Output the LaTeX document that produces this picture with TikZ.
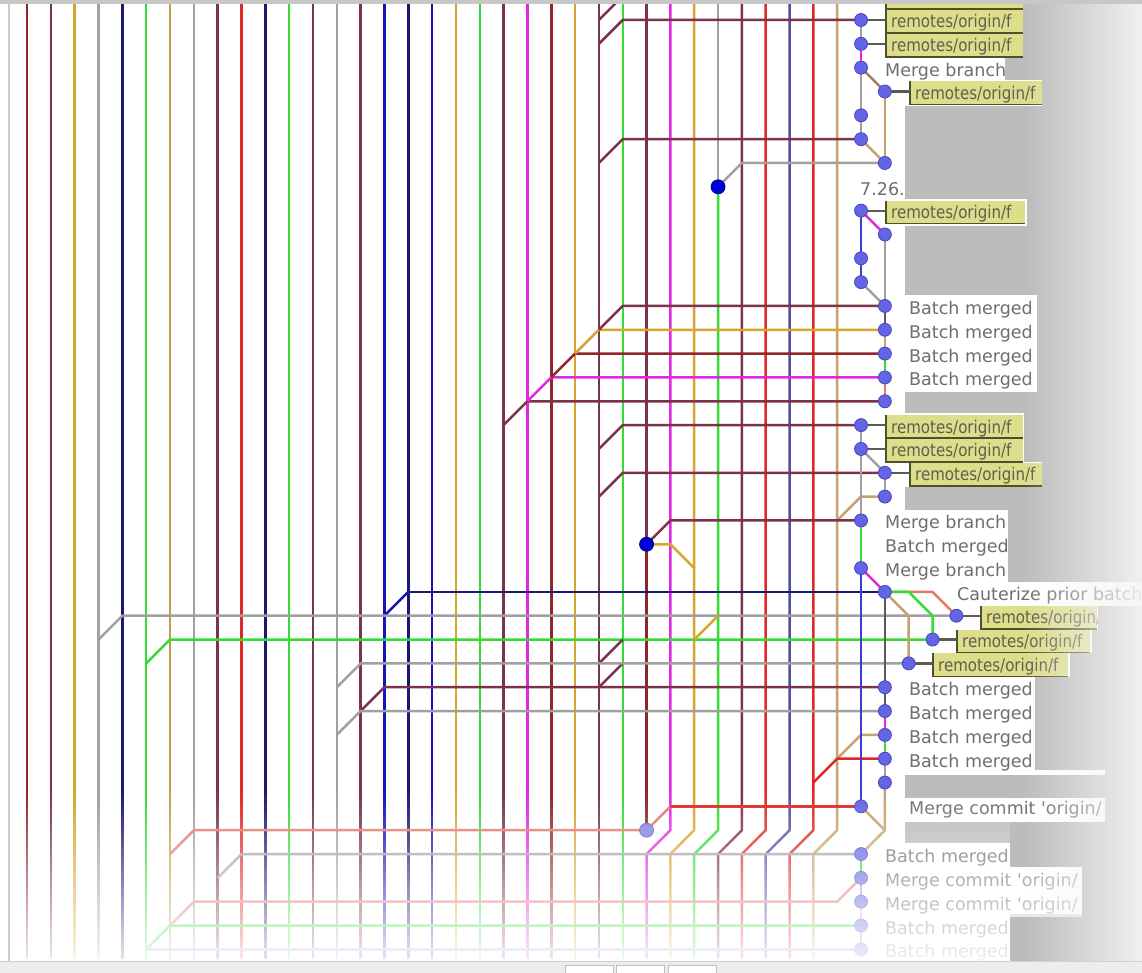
\documentclass[tikz,border=0pt]{standalone}
\usepackage{fontspec}
\usetikzlibrary{calc}
\newfontfamily\dvs{DejaVu Sans}
\newfontfamily\labfont[FakeStretch=0.86]{DejaVu Sans}
\definecolor{mar}{RGB}{125,50,75}
\definecolor{brd}{RGB}{145,38,42}
\definecolor{gld}{RGB}{215,165,45}
\definecolor{olv}{RGB}{190,160,75}
\definecolor{gry}{RGB}{160,160,160}
\definecolor{nvy}{RGB}{25,25,115}
\definecolor{blu}{RGB}{20,20,185}
\definecolor{blm}{RGB}{60,60,210}
\definecolor{grn}{RGB}{50,220,50}
\definecolor{rd}{RGB}{225,40,40}
\definecolor{mag}{RGB}{225,40,225}
\definecolor{tn}{RGB}{200,160,110}
\definecolor{btn}{RGB}{165,125,105}
\definecolor{slt}{RGB}{80,80,165}
\definecolor{sal}{RGB}{225,120,110}
\definecolor{lav}{RGB}{150,150,235}
\definecolor{dgy}{RGB}{90,90,90}
\definecolor{nodec}{RGB}{100,100,230}
\definecolor{nodee}{RGB}{70,70,190}
\definecolor{dotc}{RGB}{0,0,220}
\definecolor{dote}{RGB}{0,0,130}
\definecolor{dotl}{RGB}{130,130,225}
\definecolor{txtc}{RGB}{110,110,110}
\definecolor{ltxtc}{RGB}{95,95,80}
\definecolor{lblf}{RGB}{221,221,140}
\definecolor{lble}{RGB}{80,80,40}
\definecolor{bgg}{RGB}{188,188,188}
\definecolor{fadec}{RGB}{245,245,245}
\tikzset{
  ln/.style={line width=2.5pt, line join=round},
  commit/.style={circle, fill=nodec, draw=nodee, line width=0.8pt, minimum size=13pt, inner sep=0pt},
  dotnode/.style={circle, fill=dotc, draw=dote, line width=0.8pt, minimum size=14pt, inner sep=0pt},
  txt/.style={anchor=base west, inner sep=0pt, text=txtc, font=\dvs\fontsize{17.5}{18}\selectfont},
  ltxt/.style={anchor=base west, inner sep=0pt, text=ltxtc, font=\labfont\fontsize{17.5}{18}\selectfont},
  px/.style={x=1pt, y=-1pt, shift={(-27pt,20pt)}},
  link/.style={line width=2.2pt, draw=dgy},
}
\newcommand\lblbox[3]{%
  \fill[lblf] (#1,{20+23.83*(#3)-10}) rectangle (#2,{20+23.83*(#3)+13});
  \draw[lble, line width=1.6pt] (#1,{20+23.83*(#3)-10}) -- (#1,{20+23.83*(#3)+13}) -- (#2,{20+23.83*(#3)+13});
}
\newcommand\lbl[4]{%
  \fill[lblf] (#2,{20+23.83*(#4)-10}) rectangle (#3,{20+23.83*(#4)+13});
  \begin{scope}
    \clip (#2,{20+23.83*(#4)-10}) rectangle (#3,{20+23.83*(#4)+13});
    \node[ltxt] (#1) at ({#2+5},{28+23.83*(#4)}) {remotes/origin/f};
  \end{scope}
  \draw[lble, line width=1.6pt] (#2,{20+23.83*(#4)-10}) -- (#2,{20+23.83*(#4)+13}) -- (#3,{20+23.83*(#4)+13});
}
\begin{document}
\begin{tikzpicture}[x=23.83pt, y=-23.83pt]
\useasboundingbox (-1.13303,-0.83928) rectangle (46.79012,39.99161);
\clip (-1.13303,-0.83928) rectangle (46.79012,39.99161);
% ---------- background ----------
\begin{scope}[px]
  \fill[white] (0,0) rectangle (1142,973);
  \fill[bgg] (905,0) rectangle (1142,962);
  \fill[white] (883,8) rectangle (1023,57);
  \fill[white] (883,57) rectangle (1005,80);
  \fill[white] (883,80) rectangle (1042,106);
  \fill[white] (883,199) rectangle (1027,226);
  \fill[white] (883,295) rectangle (1037,392);
  \fill[white] (883,413) rectangle (1024,463);
  \fill[white] (883,462) rectangle (1042,487);
  \fill[white] (883,510) rectangle (1008,582);
  \fill[white] (883,582) rectangle (1142,606);
  \fill[white] (883,606) rectangle (1098,630);
  \fill[white] (883,630) rectangle (1092,653);
  \fill[white] (883,653) rectangle (1070,677);
  \fill[white] (883,677) rectangle (1035,770);
  \fill[white] (883,770) rectangle (1105,775);
  \fill[white] (883,798) rectangle (1105,822);
  \fill[white] (883,843) rectangle (1010,962);
  \fill[white] (1008,867) rectangle (1082,914);
\end{scope}
% ---------- coordinates of commits ----------
\foreach \n/\x/\y in {0/35/0,1/35/1,2/35/2,3/36/3,4/35/4,5/35/5,6/36/6,8/35/8,9/36/9,10/35/10,11/35/11,12/36/12,13/36/13,14/36/14,15/36/15,16/36/16,17/35/17,18/35/18,19/36/19,20/36/20,21/35/21,23/35/23,24/36/24,25/39/25,26/38/26,27/37/27,28/36/28,29/36/29,30/36/30,31/36/31,32/36/32,33/35/33,35/35/35,36/35/36,37/35/37,38/35/38,39/35/39}{\coordinate (n\n) at (\x,\y);}
\coordinate (dA) at (29,7);
\coordinate (dB) at (26,22);
\coordinate (dC) at (26,34);
% ---------- vertical lanes ----------
\foreach \i/\c in {0/brd,1/mar,2/gld,3/gry,4/nvy,5/grn,6/olv,7/gry,8/mar,9/rd,10/nvy,11/grn,12/mar,13/gry,14/mar,15/blu,16/nvy,17/blu,18/gld,19/grn,20/mar,21/mag,22/brd,23/gld,24/mar,25/grn}{
  \coordinate (t\i) at (\i,-0.9); \coordinate (b\i) at (\i,39.4);
  \draw[ln,\c] (t\i) -- (b\i);}
\draw[ln,mar] (26,-0.9) -- (dB);
\draw[ln,brd] (dB) -- (dC);
\draw[ln,mag] (27,-0.9) -- (27,34) -- (26,35) -- (26,39.4);
\draw[ln,gld] (28,-0.9) -- (28,34) -- (27,35) -- (27,39.4);
\draw[ln,gry] (29,-0.9) -- (dA);
\draw[ln,grn] (dA) -- (29,34) -- (28,35) -- (28,39.4);
\draw[ln,mar] (30,-0.9) -- (30,34) -- (29,35) -- (29,39.4);
\draw[ln,rd] (31,-0.9) -- (31,34) -- (30,35) -- (30,39.4);
\draw[ln,slt] (32,-0.9) -- (32,34) -- (31,35) -- (31,39.4);
\draw[ln,rd] (33,-0.9) -- (33,34) -- (32,35) -- (32,39.4);
\draw[ln,tn] (34,-0.9) -- (34,34) -- (33,35) -- (33,39.4);
% ---------- branch connectors ----------
\draw[ln,mar] (24,0) -- (25,-1);
\draw[ln,mar] (24,1) -- (25,0) -- (n0);
\draw[ln,mar] (24,6) -- (25,5) -- (n5);
\draw[ln,gry] (dA) -- (30,6) -- (n6);
\draw[ln,mar] (20,17) -- (21,16) -- (n16);
\draw[ln,mag] (21,16) -- (22,15) -- (n15);
\draw[ln,brd] (22,15) -- (23,14) -- (n14);
\draw[ln,gld] (23,14) -- (24,13) -- (n13);
\draw[ln,mar] (24,13) -- (25,12) -- (n12);
\draw[ln,mar] (24,18) -- (25,17) -- (n17);
\draw[ln,mar] (24,20) -- (25,19) -- (n19);
\draw[ln,tn] (34,21) -- (35,20) -- (n20);
\draw[ln,mar] (dB) -- (27,21) -- (n21);
\draw[ln,gld] (dB) -- (27,22) -- (28,23);
\draw[ln,blu] (15,25) -- (16,24);
\draw[ln,nvy] (16,24) -- (n24);
\draw[ln,gry] (3,26) -- (4,25) -- (n25);
\draw[ln,grn] (5,27) -- (6,26) -- (n26);
\draw[ln,gld] (28,26) -- (29,25);
\draw[ln,mar] (24,27) -- (25,26);
\draw[ln,mar] (24,28) -- (25,27);
\draw[ln,gry] (13,28) -- (14,27) -- (n27);
\draw[ln,mar] (14,29) -- (15,28) -- (n28);
\draw[ln,gry] (13,30) -- (14,29) -- (n29);
\draw[ln,tn] (34,31) -- (35,30) -- (n30);
\draw[ln,rd] (33,32) -- (34,31) -- (n31);
\draw[ln,sal] (dC) -- (27,33);
\draw[ln,rd] (27,33) -- (n33);
\draw[ln,sal] (6,35) -- (7,34) -- (dC);
\draw[ln,gry] (8,36) -- (9,35) -- (n35);
\draw[ln,sal] (6,38) -- (7,37) -- (34,37) -- (n36);
\draw[ln,grn] (5,39) -- (6,38) -- (n38);
\draw[ln,lav] (5,39) -- (n39);
% ---------- commit column ----------
\draw[ln,gry] (n0) -- (n1);
\draw[ln,mag] (n1) -- (n2);
\draw[ln,btn] (n2) -- (n3);
\draw[ln,gry] (n2) -- (n5);
\draw[ln,tn] (n3) -- (n6);
\draw[ln,tn] (n5) -- (n6);
\draw[ln,mag] (n8) -- (n9);
\draw[ln,blm] (n8) -- (n11);
\draw[ln,gry] (n9) -- (n12);
\draw[ln,gry] (n11) -- (n12);
\draw[ln,dgy] (n12) -- (n13);
\draw[ln,tn] (n13) -- (n14);
\draw[ln,grn] (n14) -- (n15);
\draw[ln,sal] (n15) -- (n16);
\draw[ln,gry] (n17) -- (n18);
\draw[ln,gry] (n18) -- (n19);
\draw[ln,gry] (n18) -- (n21);
\draw[ln,gry] (n19) -- (n20);
\draw[ln,grn] (n21) -- (n23);
\draw[ln,mag] (n23) -- (n24);
\draw[ln,blm] (n23) -- (n33);
\draw[ln,dgy] (n24) -- (n28);
\draw[ln,dgy] (n28) -- (n29);
\draw[ln,mag] (n29) -- (n30);
\draw[ln,grn] (n30) -- (n31);
\draw[ln,gry] (n31) -- (n32);
\draw[ln,tn] (n32) -- (36,34) -- (n35);
\draw[ln,tn] (n33) -- (36,34);
\draw[ln,sal] (n24) -- (38,24) -- (n25);
\draw[ln,grn] (n24) -- (37,24) -- (38,25) -- (n26);
\draw[ln,tn] (n24) -- (37,25) -- (n27);
\draw[ln,grn] (n35) -- (n36);
\draw[ln,lav] (n36) -- (n37);
\draw[ln,mag!50] (n37) -- (n38);
\draw[ln,lav] (n38) -- (n39);
% ---------- labels and texts ----------
\begin{scope}[px]
  \lblbox{886}{1023}{-1}
  \lbl{L0}{886}{1023}{0}
  \lbl{L1}{886}{1023}{1}
  \lbl{L3}{910}{1042}{3}
  \lbl{L8}{886}{1025}{8}
  \lbl{L17}{886}{1023}{17}
  \lbl{L18}{886}{1023}{18}
  \lbl{L19}{910}{1042}{19}
  \lbl{L25}{981}{1097}{25}
  \lbl{L26}{957}{1090}{26}
  \lbl{L27}{933}{1068}{27}
  \node[txt] (T2) at (885,{28.5+23.83*2}) {Merge branch};
  \node[txt] (T7) at (860,{28.5+23.83*7}) {7.26.};
  \foreach \r in {12,13,14,15}{\node[txt] (T\r) at (909,{28.5+23.83*\r}) {Batch merged};}
  \node[txt] (T21) at (885,{28.5+23.83*21}) {Merge branch};
  \node[txt] (T22) at (885,{28.5+23.83*22}) {Batch merged};
  \node[txt] (T23) at (885,{28.5+23.83*23}) {Merge branch};
  \node[txt] (T24) at (957,{28.5+23.83*24}) {Cauterize prior batch};
  \foreach \r in {28,29,30,31}{\node[txt] (T\r) at (909,{28.5+23.83*\r}) {Batch merged};}
  \node[txt] (T33) at (909,{28.5+23.83*33}) {Merge commit 'origin/};
  \node[txt] (T35) at (885,{28.5+23.83*35}) {Batch merged};
  \node[txt] (T36) at (885,{28.5+23.83*36}) {Merge commit 'origin/};
  \node[txt] (T37) at (885,{28.5+23.83*37}) {Merge commit 'origin/};
  \node[txt] (T38) at (885,{28.5+23.83*38}) {Batch merged};
  \node[txt] (T39) at (885,{28.5+23.83*39}) {Batch merged};
\end{scope}
\foreach \k in {0,1,3,8,17,18,19,25,26,27}{
  \draw[link] (n\k) -- ($(n\k -| L\k.west)+(-5pt,0)$);}
% ---------- commit dots ----------
\foreach \n in {0,1,2,3,4,5,6,8,9,10,11,12,13,14,15,16,17,18,19,20,21,23,24,25,26,27,28,29,30,31,32,33,35,36,37,38,39}{
  \node[commit] (N\n) at (n\n) {};}
\node[dotnode] (DA) at (dA) {};
\node[dotnode] (DB) at (dB) {};
\node[dotnode, fill=dotl, draw=dotl!80!black] (DC) at (dC) {};
% ---------- fades, borders, status bar ----------
\begin{scope}[px]
  \foreach \k in {0,...,33}{
    \pgfmathsetmacro\op{0.9*(\k+0.5)/34}
    \fill[white, fill opacity=\op] (0,{792+5*\k}) rectangle (1010,{797+5*\k});}
  \foreach \k in {15,...,24}{
    \pgfmathsetmacro\op{0.9*(\k+0.5)/34}
    \fill[white, fill opacity=\op] (1010,{792+5*\k}) rectangle (1082,{797+5*\k});}
  \foreach \k in {0,...,29}{
    \pgfmathsetmacro\op{0.92*(\k+0.5)/30}
    \fill[fadec, fill opacity=\op] ({1025+3.9*\k},0) rectangle ({1025+3.9*(\k+1)},962);}
  \fill[black!22] (0,0) rectangle (1142,4);
  \fill[black!20] (8,0) rectangle (10.5,962);
  \fill[black!7] (0,961) rectangle (1142,973);
  \draw[black!18, line width=0.8pt] (0,961.5) -- (1142,961.5);
  \draw[black!25, fill=white, line width=0.8pt] (565,965) rectangle (613,975);
  \draw[black!25, fill=white, line width=0.8pt] (616,965) rectangle (664,975);
  \draw[black!25, fill=white, line width=0.8pt] (668,965) rectangle (716,975);
\end{scope}
\end{tikzpicture}
\end{document}
